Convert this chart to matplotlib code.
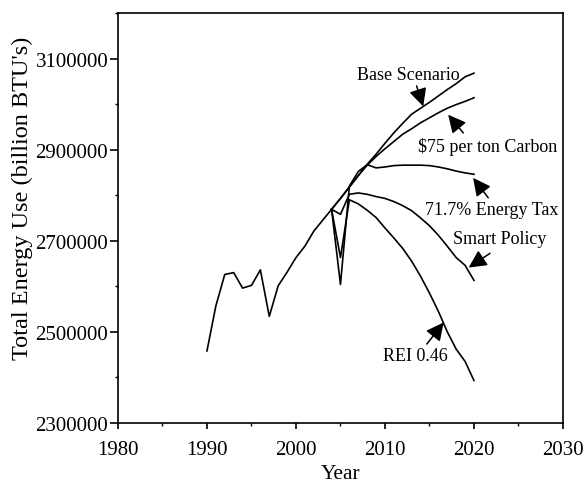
import numpy as np
import matplotlib.pyplot as plt
from matplotlib.ticker import FixedLocator, MultipleLocator

plt.rcParams['font.family'] = ['Liberation Serif', 'DejaVu Serif']

# historical data (shared by all scenarios)
hist_years = list(range(1990, 2005))
hist_vals = [2458000, 2557000, 2626000, 2630000, 2596000, 2602000, 2636000,
             2534000, 2601000, 2631000, 2663000, 2688000, 2721000, 2745000,
             2769000]

# scenario projections, 2004-2020
proj_years = list(range(2004, 2021))
base = [2769000, 2793000, 2818000, 2843000, 2868000, 2890000, 2914000, 2937000,
        2958000, 2978000, 2991000, 3004000, 3018000, 3032000, 3045000, 3060000,
        3068000]
carbon75 = [2769000, 2793000, 2818000, 2843000, 2866000, 2885000, 2902000, 2918000,
            2934000, 2946000, 2959000, 2970000, 2981000, 2991000, 2999000, 3006000,
            3014000]
energy_tax = [2769000, 2604000, 2820000, 2852000, 2867000, 2860000, 2862000, 2865000,
              2866000, 2866000, 2866000, 2865000, 2862000, 2858000, 2853000, 2849000,
              2846000]
smart_policy = [2769000, 2758000, 2802000, 2805000, 2802000, 2797000, 2793000, 2786000,
                2777000, 2766000, 2750000, 2733000, 2712000, 2688000, 2663000, 2646000,
                2613000]
rei = [2769000, 2663000, 2790000, 2781000, 2767000, 2751000, 2728000, 2706000,
       2683000, 2655000, 2622000, 2585000, 2545000, 2500000, 2462000, 2435000,
       2393000]

y_major = [2300000, 2500000, 2700000, 2900000, 3100000]
y_minor = [2400000, 2600000, 2800000, 3000000, 3200000]

fig = plt.figure(figsize=(5.84, 4.85), dpi=100)
ax = fig.add_axes([0.202, 0.126, 0.762, 0.845])

ax.plot(hist_years, hist_vals, color='black', lw=1.2)
for series in [base, carbon75, energy_tax, smart_policy, rei]:
    ax.plot(proj_years, series, color='black', lw=1.2)

ax.set_xlim(1980, 2030)
ax.set_ylim(2300000, 3200000)
ax.xaxis.set_major_locator(MultipleLocator(10))
ax.xaxis.set_minor_locator(MultipleLocator(5))
ax.yaxis.set_major_locator(FixedLocator(y_major))
ax.yaxis.set_minor_locator(FixedLocator(y_minor))
ax.set_yticklabels([str(v) for v in y_major])
ax.tick_params(which='major', direction='out', width=1.2, labelsize=15)
ax.tick_params(axis='x', which='major', length=4, pad=8)
ax.tick_params(axis='y', which='major', length=6, pad=1)
ax.tick_params(which='minor', direction='out', length=2.5, width=1)
for s in ax.spines.values():
    s.set_linewidth(1.2)

ax.set_xlabel('Year', fontsize=15.5, labelpad=4)
ax.set_ylabel("Total Energy Use (billion BTU's)", fontsize=17.5)
ax.yaxis.set_label_coords(-0.19, 0.55)

arrow = dict(arrowstyle='-|>,head_length=0.9,head_width=0.45', color='black',
             lw=1.1, mutation_scale=12, shrinkA=0, shrinkB=0)

ax.text(2012.6, 3064500, 'Base Scenario', fontsize=13, ha='center', va='center')
ax.annotate('', xy=(2014.3, 2995100), xytext=(2013.55, 3040000), arrowprops=arrow)

ax.text(2021.5, 2907400, '$75 per ton Carbon', fontsize=13, ha='center', va='center')
ax.annotate('', xy=(2017.1, 2976900), xytext=(2018.8, 2936800), arrowprops=arrow)

ax.text(2022.0, 2768800, '71.7% Energy Tax', fontsize=13, ha='center', va='center')
ax.annotate('', xy=(2019.9, 2838200), xytext=(2021.6, 2794400), arrowprops=arrow)

ax.text(2022.9, 2704600, 'Smart Policy', fontsize=13, ha='center', va='center')
ax.annotate('', xy=(2019.4, 2641100), xytext=(2021.8, 2672400), arrowprops=arrow)

ax.text(2013.4, 2447400, 'REI 0.46', fontsize=13, ha='center', va='center')
ax.annotate('', xy=(2016.6, 2520600), xytext=(2014.7, 2473100), arrowprops=arrow)

fig.savefig('out.png', dpi=100)
